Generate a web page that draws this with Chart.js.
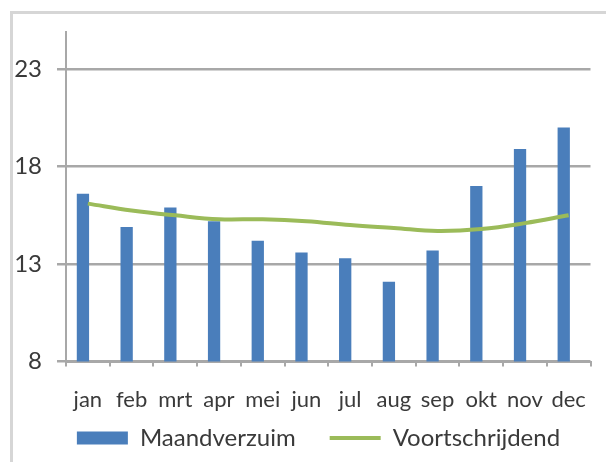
<!DOCTYPE html>
<html>
<head>
<meta charset="utf-8">
<script src="https://cdn.jsdelivr.net/npm/chart.js@4/dist/chart.umd.min.js"></script>
<style>
  html, body { margin: 0; padding: 0; background: #ffffff; }
  #wrap { position: relative; width: 606px; height: 462px; overflow: hidden; }
  #frame { position: absolute; left: 10px; top: 11px; right: -5px; bottom: -5px;
           border-top: 3px solid #d6d6d6; border-left: 3px solid #d6d6d6; }
  #c { position: absolute; left: 0; top: 0; }
</style>
</head>
<body>
<div id="wrap">
  <div id="frame"></div>
  <canvas id="c" width="606" height="462"></canvas>
</div>
<script>
const months = ['jan', 'feb', 'mrt', 'apr', 'mei', 'jun', 'jul', 'aug', 'sep', 'okt', 'nov', 'dec'];
const maandverzuim = [16.6, 14.9, 15.9, 15.2, 14.2, 13.6, 13.3, 12.1, 13.7, 17.0, 18.9, 20.0];
const voortschrijdend = [16.1, 15.75, 15.5, 15.3, 15.3, 15.2, 15.0, 14.85, 14.7, 14.8, 15.1, 15.5];
const emptySlot = [null, null, null, null, null, null, null, null, null, null, null, null];
const yTickValues = [8, 13, 18, 23];
const seriesNames = ['Maandverzuim', 'Voortschrijdend'];

const FONT = 'Lato, "Open Sans", sans-serif';
const TEXT = '#3a3a3a';
const GRID = '#a8a8a8';

// moves the legend block (layout only)
const legendShift = {
  id: 'legendShift',
  afterLayout(chart) {
    const lg = chart.legend;
    if (!lg) return;
    lg.left += 13; lg.right += 13;
    lg.top -= 41; lg.bottom += 20;
  }
};

new Chart(document.getElementById('c'), {
  data: {
    labels: months,
    datasets: [
      {
        type: 'bar',
        label: seriesNames[0],
        data: maandverzuim,
        backgroundColor: '#4a7ebb',
        borderWidth: 0,
        categoryPercentage: 0.45,
        barPercentage: 1.25,
        order: 1
      },
      {
        type: 'bar',
        label: '',
        data: emptySlot,
        backgroundColor: 'rgba(0,0,0,0)',
        categoryPercentage: 0.45,
        barPercentage: 1.25,
        order: 1
      },
      {
        type: 'line',
        label: seriesNames[1],
        data: voortschrijdend,
        borderColor: '#9bbb59',
        backgroundColor: '#9bbb59',
        borderWidth: 4,
        pointRadius: 0,
        tension: 0.4,
        fill: false,
        order: 0
      }
    ]
  },
  plugins: [legendShift],
  options: {
    responsive: false,
    animation: false,
    layout: { padding: { left: 8, right: 3, top: 32, bottom: 1 } },
    plugins: {
      tooltip: { enabled: false },
      legend: {
        position: 'bottom',
        maxHeight: 28,
        labels: {
          usePointStyle: true,
          pointStyleWidth: 51,
          boxHeight: 13,
          padding: 34,
          color: TEXT,
          font: { family: FONT, size: 24 },
          generateLabels(chart) {
            const items = Chart.defaults.plugins.legend.labels.generateLabels(chart);
            return items
              .filter(it => it.text)
              .sort((a, b) => a.datasetIndex - b.datasetIndex)
              .map(it => {
                it.pointStyle = chart.data.datasets[it.datasetIndex].type === 'line' ? 'line' : 'rect';
                return it;
              });
          }
        }
      }
    },
    scales: {
      x: {
        offset: true,
        grid: {
          offset: true,
          drawOnChartArea: false,
          drawTicks: true,
          tickLength: 5,
          color: GRID,
          lineWidth: 2
        },
        border: { display: true, color: GRID, width: 2 },
        ticks: {
          color: TEXT,
          padding: 20,
          maxRotation: 0,
          autoSkip: false,
          font: { family: FONT, size: 22 }
        }
      },
      y: {
        min: 8,
        max: 24.9,
        afterBuildTicks(scale) {
          scale.ticks = yTickValues.map(v => ({ value: v }));
        },
        afterFit(scale) { scale.width = 58; },
        grid: {
          color: GRID,
          lineWidth: 2.5,
          drawTicks: true,
          tickLength: 9
        },
        border: { display: true, color: GRID, width: 2 },
        ticks: {
          color: TEXT,
          padding: 15,
          font: { family: FONT, size: 24 }
        }
      }
    }
  }
});
</script>
</body>
</html>
